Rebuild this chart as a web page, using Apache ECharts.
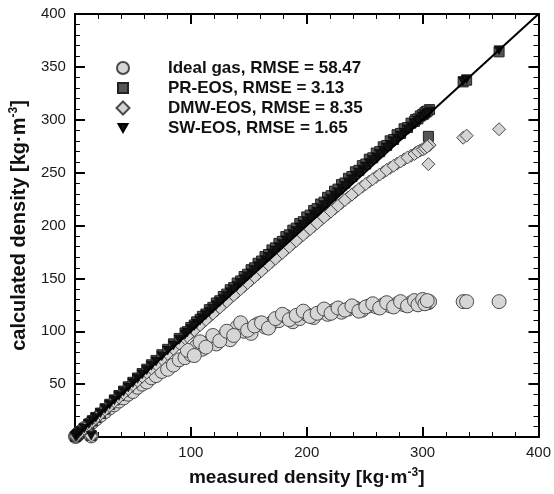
<!DOCTYPE html>
<html>
<head>
<meta charset="utf-8">
<script src="https://cdn.jsdelivr.net/npm/echarts/dist/echarts.min.js"></script>
<style>
  html, body { margin: 0; padding: 0; background: #fff; }
  #chart { width: 554px; height: 494px; }
</style>
</head>
<body>
<div id="chart"></div>
<script>
// ---- data ----
const measured = [0.5,1,2,3,5,8,12,14,15,18,
  22,26,30,34,38,42,46,50,54,58,
  62,66,70,75,80,85,90,95,100,105,
  110,116,122,128,134,140,146,152,158,164,
  170,176,182,188,194,200,206,212,218,224,
  230,236,242,248,254,260,266,272,278,284,
  290,294,298,301,303,305,306,335,338,366,
  97,103,108,113,119,125,131,137,143,149,
  155,161,167,173,179,185,191,197,203,209,
  215,221,227,233,239,245,251,257,263,269,
  275,281,287,293,296,300,302,304];

const idealGas = [0.5,1,2,3,4.9,7.8,11.5,1,14.2,17,
  20.5,24,27.5,30.5,34,37,40.5,43,47,50,
  52,56,58,62,64,68,73,75,78,86,
  83,90,88,95,92,104,100,98,107,104,
  108,110,114,109,112,116,113,118,116,120,
  118,121,122,120,124,123,125,124,126,125,
  127,126,128,127,128,127,128,128,128,128,
  82,77,90,85,96,91,100,96,108,101,
  105,108,103,112,116,111,115,119,114,117,
  121,117,122,120,124,119,123,126,122,127,
  123,128,124,129,125,130,126,129];

const prEos = [0.5,1,2,3.1,5.1,8.2,12.3,1.5,15.4,18.5,
  22.6,26.8,30.9,35.1,39.2,43.4,47.5,51.7,55.8,60,
  64.1,68.3,72.4,77.8,82.9,88.1,93.2,98.4,103.6,108.9,
  114.1,120.4,126.7,132.9,139.3,145.6,151.8,158.2,164.3,170.6,
  176.9,183.1,189.5,195.6,201.9,208.1,214.2,220.3,226.6,232.5,
  238.7,244.6,250.8,256.6,262.7,268.5,274.4,280.1,285.9,291.5,
  296.8,300.2,303.6,305.4,307.5,284.3,309.6,335.8,337.4,364.2,
  99.6,105.9,111.2,116.3,122.6,128.8,135.1,141.4,147.6,153.9,
  160,166.4,172.6,178.9,185,191.2,197.5,203.6,209.8,216,
  222.1,228.2,234.4,240.2,246.3,252.2,258.1,264,269.9,275.6,
  281.3,287.1,292.6,298.4,300.9,304.8,306.7,308.2];

const dmwEos = [0.5,1,2,3,4.9,7.9,11.9,1,14.8,17.8,
  21.8,25.7,29.6,33.6,37.5,41.4,45.4,49.3,53.2,57.1,
  61,64.9,68.9,73.8,78.7,83.5,88.4,93.3,98.1,103,
  107.8,113.7,119.5,125.3,131.1,136.9,142.7,148.5,154.2,160,
  165.7,171.4,177,182.7,188.3,193.8,199.3,205,210.5,216,
  221.4,226.6,231.8,236.8,241.5,246,250.4,254.5,258.5,262.5,
  266,268.5,271,272.5,274,258,276,283,285,291,
  95.2,101.1,105.9,110.8,116.6,122.4,128.2,134,139.8,145.6,
  151.4,157.1,162.9,168.6,174.2,179.9,185.5,191.1,196.6,202.1,
  207.8,213.2,218.7,224,229.2,234.4,239.2,243.8,248.2,252.5,
  256.5,260.5,264.3,267.6,269.8,272,273.1,274.6];

const swEos = [0.5,1,2,3,5,8.1,12.2,1.3,15.3,18.3,
  22.4,26.5,30.5,34.7,38.7,42.9,46.8,51,55,59.2,
  63.1,67.4,71.4,76.4,81.7,86.6,91.9,96.8,102.1,107,
  112.3,118.2,124.6,130.4,136.9,142.6,149.1,154.8,161.4,167.1,
  173.6,179.3,185.9,191.5,198,203.8,210.3,215.9,222.5,228.1,
  234.7,240.3,246.9,252.4,258.8,264.3,270.6,276.1,282.2,287.6,
  293.3,296.9,300.4,302.6,304.3,306.2,307.4,336.5,338.2,365.8,
  98.8,105,110.1,115.3,121.3,127.6,133.5,139.8,145.8,152,
  158.1,164.2,170.4,176.3,182.6,188.8,194.7,201,207.1,213.1,
  219.3,225.4,231.4,237.6,243.7,249.9,255.8,261.9,267.9,273.8,
  279.7,285.2,291,296.5,299.2,302.9,304.8,306];

const parityLine = [[0, 0], [400, 400]];

const seriesNames = [
  'Ideal gas, RMSE = 58.47',
  'PR-EOS, RMSE = 3.13',
  'DMW-EOS, RMSE = 8.35',
  'SW-EOS, RMSE = 1.65'
];

// ---- chart ----
const FONT = '"Liberation Sans", Arial, Helvetica, sans-serif';
const triPath = 'path://M0,0 L10,0 L5,9 Z';

function pts(arr) { return measured.map((x, i) => [x, arr[i]]); }

const axisCommon = {
  min: 0, max: 400,
  axisLine: { show: true, onZero: false, lineStyle: { color: '#000', width: 2 } },
  axisTick: { show: true, inside: true, length: 10, lineStyle: { color: '#000', width: 2 } },
  minorTick: { show: true, splitNumber: 5, length: 5, lineStyle: { color: '#000', width: 1 } },
  splitLine: { show: false },
  minorSplitLine: { show: false }
};

const nameRich = {
  sup: { fontSize: 12, fontWeight: 'bold', fontFamily: FONT, color: '#111', verticalAlign: 'top', lineHeight: 12 }
};

function legendItem(idx, top, w, h) {
  return {
    data: [seriesNames[idx]],
    left: 117 - w / 2,
    top: top,
    orient: 'vertical',
    itemWidth: w,
    itemHeight: h,
    selectedMode: false,
    textStyle: {
      fontFamily: FONT, fontSize: 17, fontWeight: 'bold', color: '#111',
      lineHeight: 20, padding: [0, 0, 0, 45 - w / 2 - 5]
    }
  };
}

const option = {
  animation: false,
  backgroundColor: '#fff',
  grid: { left: 72, top: 14, right: 13, bottom: 53 },
  legend: [
    legendItem(0, 53, 12, 12),
    legendItem(1, 73, 10, 10),
    legendItem(2, 93, 13, 13),
    legendItem(3, 113, 9, 9)
  ],
  xAxis: [
    Object.assign({}, axisCommon, {
      type: 'value', position: 'bottom', interval: 100,
      axisLabel: { show: true, showMinLabel: false, margin: 8, fontFamily: FONT, fontSize: 15, color: '#1a1a1a' },
      name: 'measured density [kg·m{sup|-3}]',
      nameLocation: 'middle', nameGap: 30,
      nameTextStyle: { fontFamily: FONT, fontSize: 19, fontWeight: 'bold', color: '#111', lineHeight: 22, rich: nameRich }
    }),
    Object.assign({}, axisCommon, {
      type: 'value', position: 'top', interval: 100,
      axisLabel: { show: false }
    })
  ],
  yAxis: [
    Object.assign({}, axisCommon, {
      type: 'value', position: 'left', interval: 50,
      axisLabel: { show: true, showMinLabel: false, margin: 9, fontFamily: FONT, fontSize: 15, color: '#1a1a1a' },
      name: 'calculated density [kg·m{sup|-3}]',
      nameLocation: 'middle', nameGap: 37,
      nameTextStyle: { fontFamily: FONT, fontSize: 20, fontWeight: 'bold', color: '#111', lineHeight: 22, rich: nameRich }
    }),
    Object.assign({}, axisCommon, {
      type: 'value', position: 'right', interval: 50,
      axisLabel: { show: false }
    })
  ],
  series: [
    {
      name: seriesNames[0], type: 'scatter', symbol: 'circle', symbolSize: 14,
      data: pts(idealGas),
      itemStyle: { color: '#d6d6d6', borderColor: '#4a4a4a', borderWidth: 1, opacity: 1 },
      z: 2
    },
    {
      name: seriesNames[1], type: 'scatter', symbol: 'rect', symbolSize: 10,
      data: pts(prEos),
      itemStyle: { color: '#555', borderColor: '#222', borderWidth: 1, opacity: 1 },
      z: 3
    },
    {
      name: seriesNames[2], type: 'scatter', symbol: 'diamond', symbolSize: 13,
      data: pts(dmwEos),
      itemStyle: { color: '#d4d4d4', borderColor: '#4a4a4a', borderWidth: 1, opacity: 1 },
      z: 4
    },
    {
      name: seriesNames[3], type: 'scatter', symbol: triPath, symbolSize: [10, 9],
      data: pts(swEos),
      itemStyle: { color: '#111', borderColor: '#000', borderWidth: 0.5, opacity: 1 },
      z: 5
    },
    {
      name: 'parity', type: 'line', data: parityLine, showSymbol: false, symbol: 'none',
      lineStyle: { color: '#000', width: 2 }, silent: true, z: 6
    }
  ]
};

const chart = echarts.init(document.getElementById('chart'), null, { renderer: 'canvas' });
chart.setOption(option);
</script>
</body>
</html>
